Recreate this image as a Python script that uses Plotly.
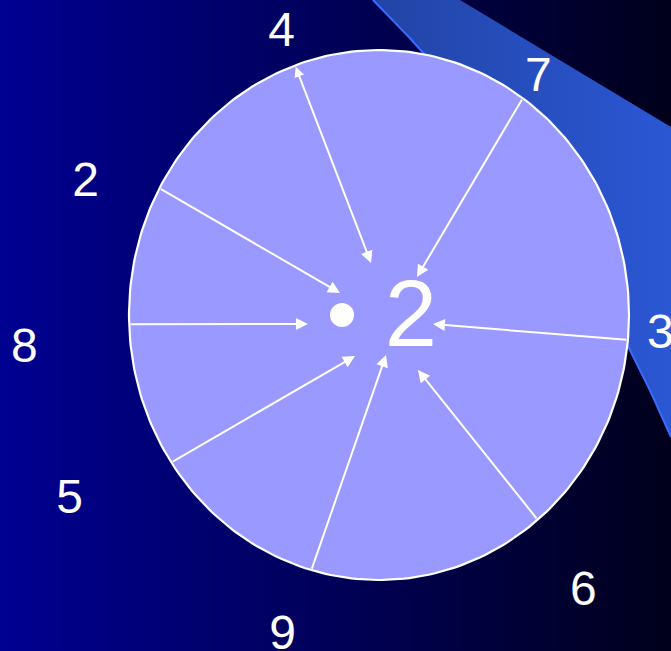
import numpy as np
import plotly.graph_objects as go

# ---- data ----
labels = ["4", "7", "3", "6", "9", "5", "8", "2"]
label_angle = [108.9, 56.4, -3.5, -53.3, -106.9, 210.5, 185.0, 155.3]   # degrees
label_radius = [301, 288, 282, 342, 332, 359, 356, 323]
arrow_start_angle = [109.6, 54.9, -5.4, -50.6, -105.7, 213.8, 182.0, 151.4]  # on the rim
arrow_end_angle = [98.7, 45.0, -9.5, -54.7, -80.0, -120.3, -172.8, 150.6]
arrow_end_radius = [52.6, 53.7, 54.7, 67.4, 40.6, 47.5, 71.6, 44.8]
double_headed = [True, False, False, False, False, False, False, False]
center_label = "2"

# ---- geometry / style ----
W, H = 671, 651
cx, cy, rx, ry = 379, 315, 250, 265
font = "Liberation Sans, Arial, sans-serif"
text_dy, center_dy = 4, 7   # baseline nudges for text glyphs

def polar(ang, r):
    a = np.radians(ang)
    return cx + r * np.cos(a), cy - r * np.sin(a)

def rim(ang):
    a = np.radians(ang)
    return cx + rx * np.cos(a), cy - ry * np.sin(a)

fig = go.Figure()

# background gradient
fig.add_trace(go.Scatter(
    x=[0, W, W, 0, 0], y=[0, 0, H, H, 0], mode="lines", line=dict(width=0),
    fill="toself", fillgradient=dict(type="horizontal",
                                     colorscale=[[0, "#000092"], [0.5, "#000058"], [1, "#00001C"]]),
    hoverinfo="skip", showlegend=False))

# diagonal band (quadratic bezier left edge)
t = np.linspace(0, 1, 60)
P0, P1, P2 = np.array([373, 0]), np.array([566, 193]), np.array([671, 437])
edge = np.outer((1 - t) ** 2, P0) + np.outer(2 * t * (1 - t), P1) + np.outer(t ** 2, P2)
bx = [460, 671] + list(edge[::-1, 0]) + [460]
by = [0, 127] + list(edge[::-1, 1]) + [0]
fig.add_trace(go.Scatter(
    x=bx, y=by, mode="lines", line=dict(width=0), fill="toself",
    fillgradient=dict(type="horizontal", colorscale=[[0, "#2244A6"], [1, "#2B57D4"]]),
    hoverinfo="skip", showlegend=False))
fig.add_trace(go.Scatter(x=edge[:, 0], y=edge[:, 1], mode="lines",
                         line=dict(color="#3A6CFF", width=2), hoverinfo="skip", showlegend=False))

# circle
th = np.linspace(0, 2 * np.pi, 300)
fig.add_trace(go.Scatter(x=cx + rx * np.cos(th), y=cy + ry * np.sin(th), mode="lines",
                         line=dict(color="white", width=2.2), fill="toself", fillcolor="#9999FF",
                         hoverinfo="skip", showlegend=False))

# arrows
for i in range(len(labels)):
    sx, sy = rim(arrow_start_angle[i])
    ex, ey = polar(arrow_end_angle[i], arrow_end_radius[i])
    fig.add_annotation(x=ex, y=ey, ax=sx, ay=sy, xref="x", yref="y", axref="x", ayref="y",
                       text="", showarrow=True, arrowhead=2, arrowsize=1.2, arrowwidth=2,
                       arrowside="end+start" if double_headed[i] else "end",
                       startarrowhead=2, startarrowsize=1.0,
                       arrowcolor="white", standoff=0, startstandoff=0)

# outer labels
lx, ly = zip(*[polar(a, r) for a, r in zip(label_angle, label_radius)])
fig.add_trace(go.Scatter(x=lx, y=[v + text_dy for v in ly], mode="text", text=labels,
                         textfont=dict(family=font, size=48, color="white"),
                         textposition="middle center", hoverinfo="skip", showlegend=False))

# center bullet + label
fig.add_trace(go.Scatter(x=[cx - 37], y=[cy], mode="markers",
                         marker=dict(size=24, color="white", line=dict(width=0)),
                         hoverinfo="skip", showlegend=False))
fig.add_trace(go.Scatter(x=[cx + 32], y=[cy + center_dy], mode="text", text=[center_label],
                         textfont=dict(family=font, size=94, color="white"),
                         textposition="middle center", hoverinfo="skip", showlegend=False))

fig.update_layout(
    width=W, height=H, margin=dict(l=0, r=0, t=0, b=0),
    paper_bgcolor="#000050", plot_bgcolor="#000050",
    xaxis=dict(range=[0, W], visible=False, fixedrange=True),
    yaxis=dict(range=[H, 0], visible=False, fixedrange=True),
    showlegend=False)

fig.write_html("out.html", config={"displayModeBar": False},
               post_script="document.body.style.margin='0';document.body.style.overflow='hidden';")
